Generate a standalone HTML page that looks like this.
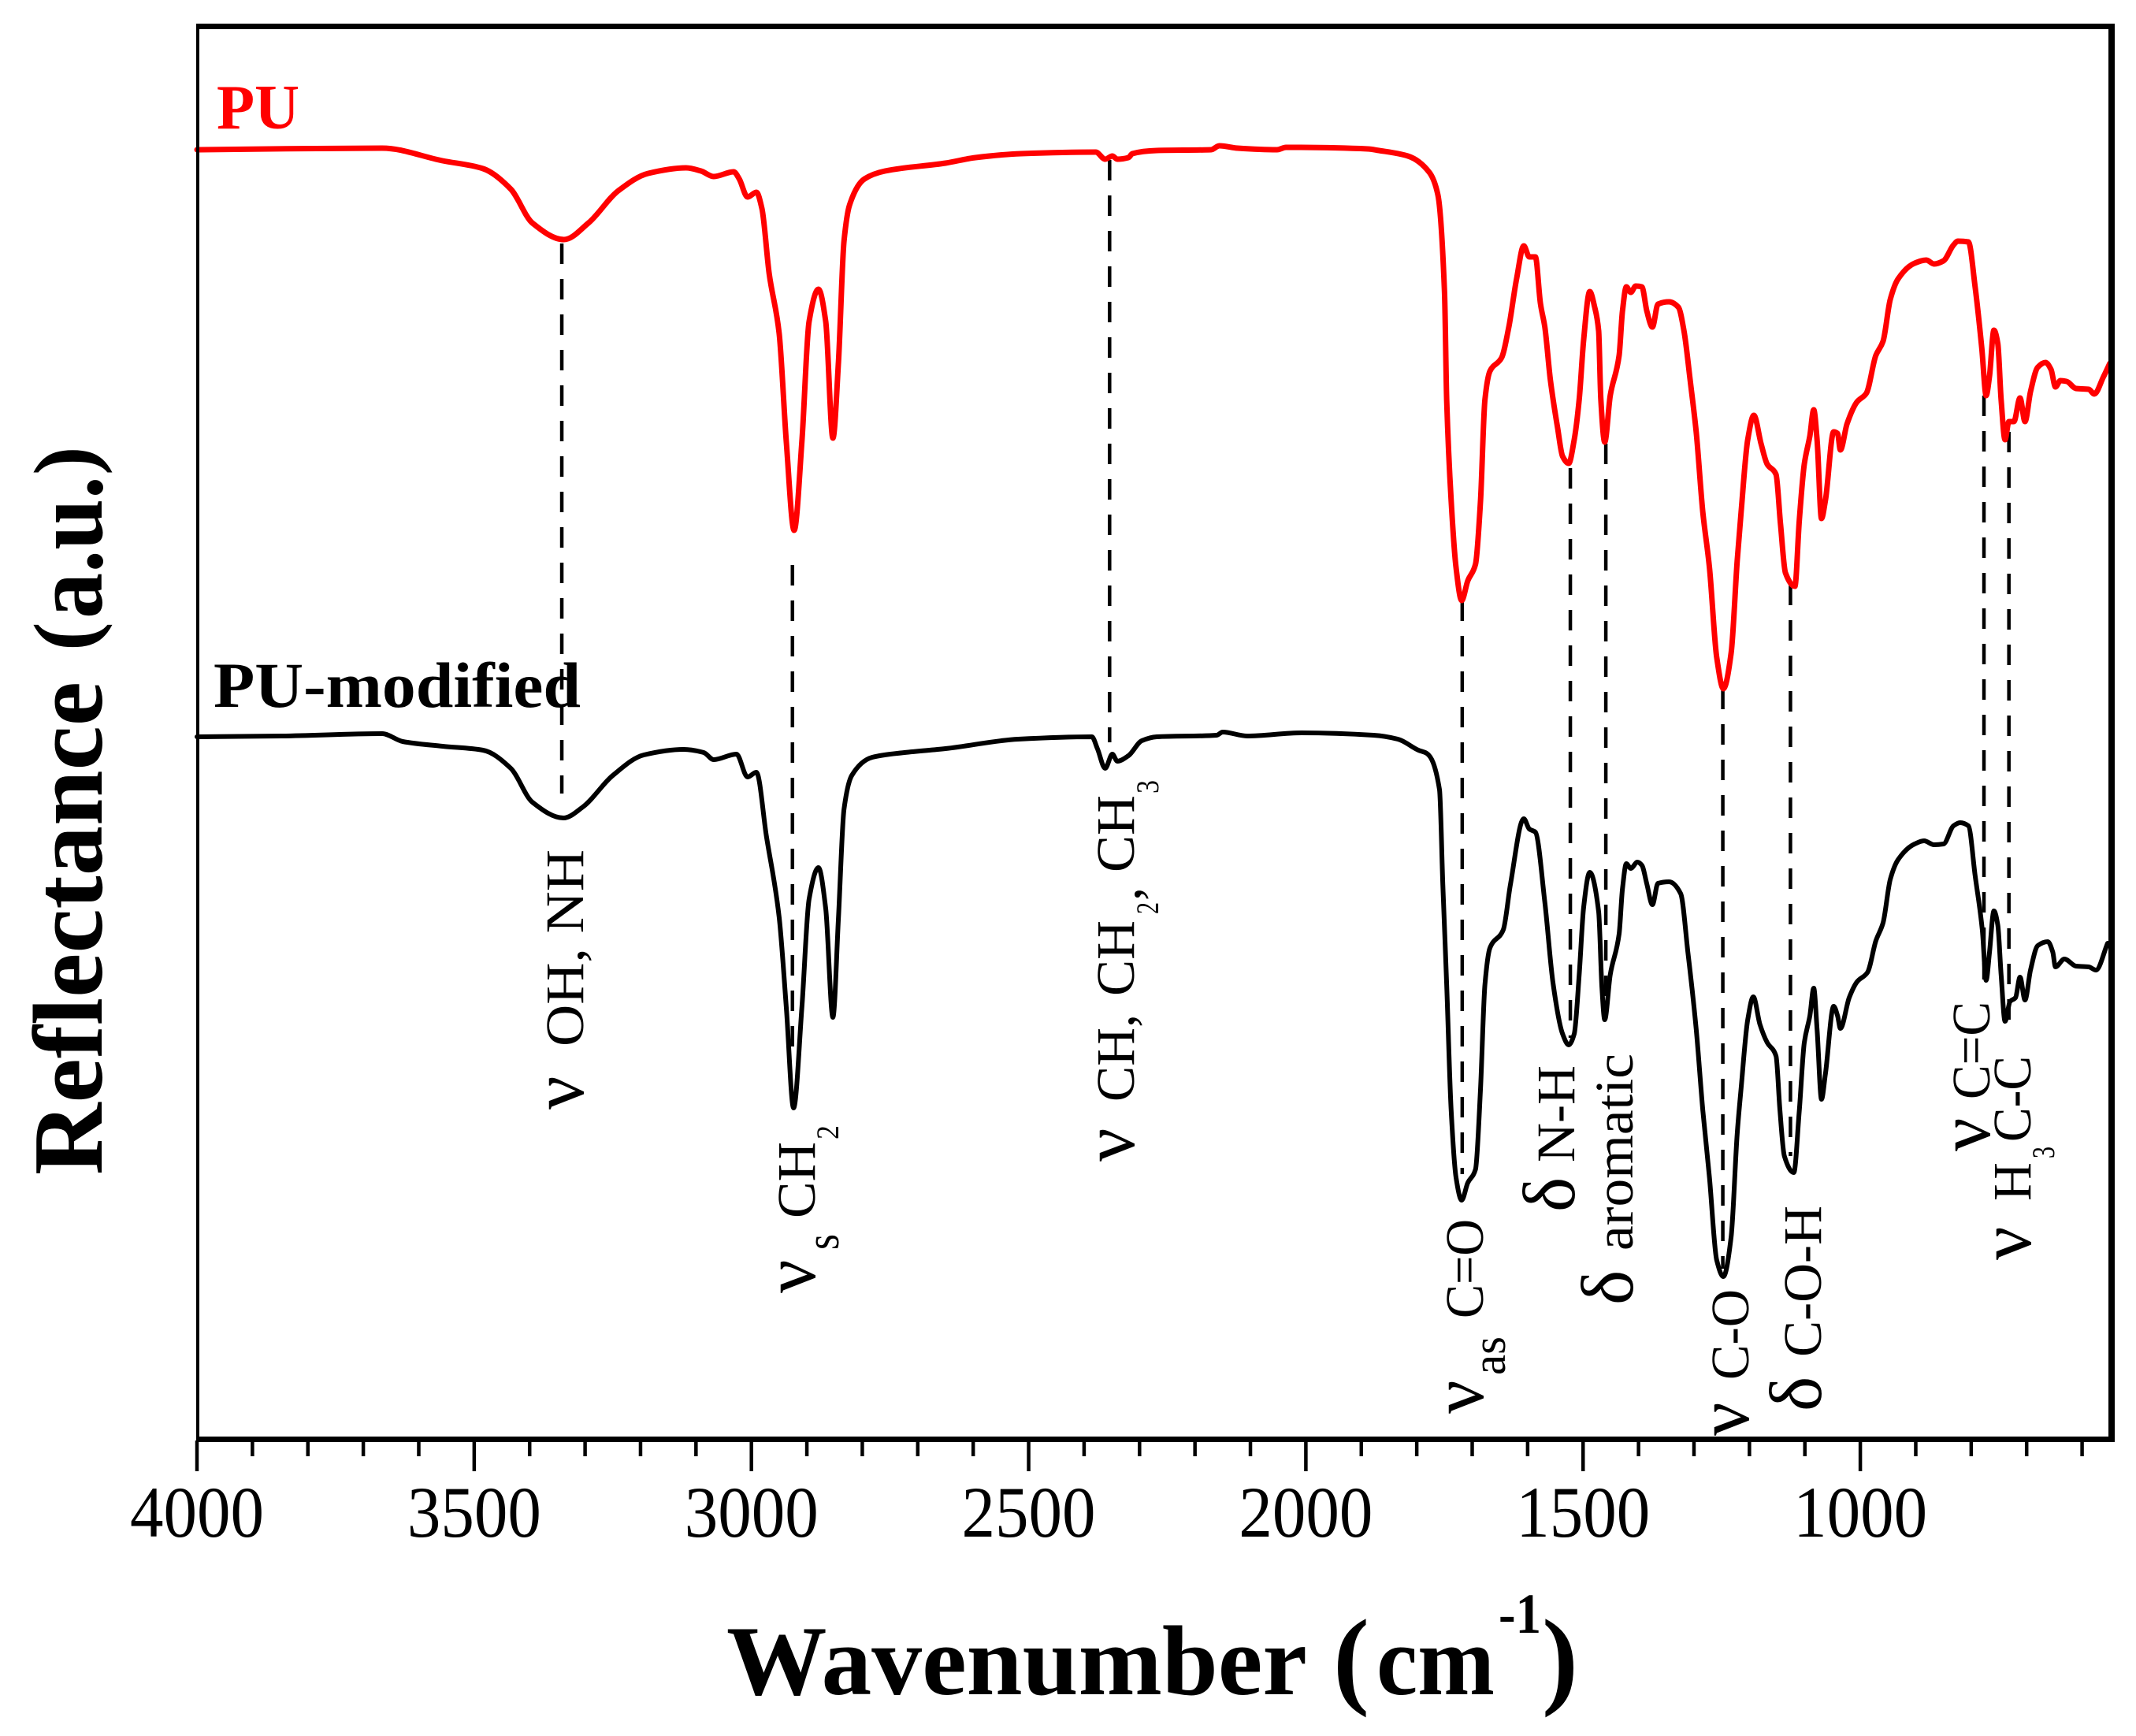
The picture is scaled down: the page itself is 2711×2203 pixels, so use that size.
<!DOCTYPE html>
<html lang="en">
<head>
<meta charset="utf-8">
<title>Reflectance spectra of PU and PU-modified</title>
<style>
html,body{margin:0;padding:0;background:#fff;}
svg{display:block;}
text{font-family:"Liberation Serif",serif;fill:#000;}
.cap{font-size:69px;}
.sym{font-size:94px;}
.sub{font-size:60px;}
.num{font-size:40px;}
.bold{font-weight:bold;}
</style>
</head>
<body>
<svg id="chart" xmlns="http://www.w3.org/2000/svg" width="2711" height="2203" viewBox="0 0 2711 2203">
  <rect x="0" y="0" width="2711" height="2203" fill="#fff"/>
  <g id="peak-lines"></g>
  <g id="series"></g>

  <g fill="#000">
    <rect x="249" y="30" width="2435" height="7"/>
    <rect x="249" y="30" width="4" height="1800"/>
    <rect x="2676" y="30" width="8" height="1800"/>
    <rect x="249" y="1823" width="2435" height="7"/>
  </g>
  <g id="ticks"></g>
  <g id="tick-labels"></g>

  <text class="bold" x="275" y="163" font-size="80" style="fill:#f00" textLength="105" lengthAdjust="spacingAndGlyphs">PU</text>
  <text class="bold" x="271" y="897" font-size="82" textLength="466" lengthAdjust="spacingAndGlyphs">PU-modified</text>

  <g transform="translate(129,1491) rotate(-90)">
    <text class="bold" x="0" y="0" font-size="126" textLength="626" lengthAdjust="spacingAndGlyphs">Reflectance</text>
    <text class="bold" x="665" y="-10" font-size="110">(</text>
    <text class="bold" x="706" y="0" font-size="126" textLength="181" lengthAdjust="spacingAndGlyphs">a.u.</text>
    <text class="bold" x="888" y="-10" font-size="110">)</text>
  </g>

  <g>
    <text class="bold" x="922" y="2150" font-size="126" textLength="737" lengthAdjust="spacingAndGlyphs">Wavenumber</text>
    <text class="bold" x="1692" y="2150" font-size="138">(</text>
    <text class="bold" x="1747" y="2150" font-size="126" textLength="150" lengthAdjust="spacingAndGlyphs">cm</text>
    <text class="bold" x="1902" y="2072" font-size="72" textLength="54" lengthAdjust="spacingAndGlyphs">-1</text>
    <text class="bold" x="1957" y="2150" font-size="138">)</text>
  </g>

  <g transform="translate(740,1408) rotate(-90)">
    <text class="sym" x="0" y="0">ν</text>
    <text class="cap" x="80" y="0" textLength="250" lengthAdjust="spacingAndGlyphs">OH, NH</text>
  </g>
  <g transform="translate(1034,1641) rotate(-90)">
    <text class="sym" x="0" y="0">ν</text>
    <text class="sub" x="55" y="30" textLength="20" lengthAdjust="spacingAndGlyphs">s</text>
    <text class="cap" x="95" y="0" textLength="97" lengthAdjust="spacingAndGlyphs">CH</text>
    <text class="num" x="195" y="30" textLength="18" lengthAdjust="spacingAndGlyphs">2</text>
  </g>
  <g transform="translate(1439,1474) rotate(-90)">
    <text class="sym" x="0" y="0">ν</text>
    <text class="cap" x="76" y="0" textLength="111" lengthAdjust="spacingAndGlyphs">CH,</text>
    <text class="cap" x="210" y="0" textLength="96" lengthAdjust="spacingAndGlyphs">CH</text>
    <text class="num" x="314" y="31" textLength="15" lengthAdjust="spacingAndGlyphs">2</text>
    <text class="cap" x="331" y="8">,</text>
    <text class="cap" x="367" y="0" textLength="98" lengthAdjust="spacingAndGlyphs">CH</text>
    <text class="num" x="467" y="31" textLength="17" lengthAdjust="spacingAndGlyphs">3</text>
  </g>
  <g transform="translate(1882,1794) rotate(-90)">
    <text class="sym" x="0" y="0">ν</text>
    <text class="sub" x="49" y="28" textLength="49" lengthAdjust="spacingAndGlyphs">as</text>
    <text class="cap" x="121" y="0" textLength="126" lengthAdjust="spacingAndGlyphs">C=O</text>
  </g>
  <g transform="translate(1998,1538) rotate(-90)">
    <text class="sym" x="0" y="0">δ</text>
    <text class="cap" x="63" y="0" textLength="123" lengthAdjust="spacingAndGlyphs">N-H</text>
  </g>
  <g transform="translate(2072,1656) rotate(-90)">
    <text class="sym" x="0" y="0">δ</text>
    <text class="cap" x="69" y="0" textLength="250" lengthAdjust="spacingAndGlyphs">aromatic</text>
  </g>
  <g transform="translate(2219,1822) rotate(-90)">
    <text class="sym" x="0" y="0">ν</text>
    <text class="cap" x="71" y="0" textLength="115" lengthAdjust="spacingAndGlyphs">C-O</text>
  </g>
  <g transform="translate(2311,1791) rotate(-90)">
    <text class="sym" x="0" y="0">δ</text>
    <text class="cap" x="69" y="0" textLength="192" lengthAdjust="spacingAndGlyphs">C-O-H</text>
  </g>
  <g transform="translate(2525,1461) rotate(-90)">
    <text class="sym" x="0" y="0">ν</text>
    <text class="cap" x="66" y="0" textLength="124" lengthAdjust="spacingAndGlyphs">C=C</text>
  </g>
  <g transform="translate(2577,1599) rotate(-90)">
    <text class="sym" x="0" y="0">ν</text>
    <text class="cap" x="75" y="0" textLength="49" lengthAdjust="spacingAndGlyphs">H</text>
    <text class="num" x="129" y="30" textLength="15" lengthAdjust="spacingAndGlyphs">3</text>
    <text class="cap" x="150" y="0" textLength="109" lengthAdjust="spacingAndGlyphs">C-C</text>
  </g>
</svg>
<script>
const puSpectrum = [
[4000,163.5],[3666,163.7],[3557,162.1],[3484,161.1],[3434,158.5],[3395,154.2],[3338,152.1],[3294,154.2],[3240,158.3],[3186,160.5],
[3118,161.2],[3091,160.8],[3068,160.1],[3032,160.7],[3022,159.8],[3007,157.5],[2991,158.1],[2981,156.0],[2968,147.8],[2950,140.2],
[2937,126.4],[2923,115.2],[2909,126.4],[2896,141.7],[2879,145.8],[2866,141.7],[2853,126.9],[2843,136.6],[2833,151.9],[2823,156.5],
[2796,159.8],[2759,160.8],[2650,161.8],[2596,162.5],[2514,163.0],[2379,163.2],[2362,162.3],[2349,162.7],[2340,162.3],[2320,162.5],
[2313,163.0],[2269,163.4],[2171,163.5],[2156,164.0],[2123,163.7],[2052,163.5],[2036,163.8],[1888,163.6],[1868,163.4],[1816,162.7],
[1777,160.6],[1762,157.8],[1750,145.6],[1746,131.8],[1738,119.0],[1729,110.4],[1719,106.3],[1708,108.8],[1694,110.9],[1685,119.0],
[1677,131.8],[1668,135.4],[1647,137.1],[1634,141.0],[1620,147.1],[1607,151.3],[1597,149.9],[1586,149.9],[1577,144.0],[1569,141.0],
[1559,134.3],[1546,128.2],[1537,124.6],[1526,123.7],[1516,126.7],[1507,131.8],[1499,139.4],[1488,145.5],[1479,143.5],[1472,140.5],
[1468,131.8],[1461,126.4],[1451,132.3],[1435,137.4],[1429,143.0],[1422,146.1],[1414,145.4],[1405,146.2],[1394,146.1],[1385,143.0],
[1375,141.0],[1365,143.9],[1345,144.2],[1328,143.5],[1318,140.5],[1307,134.3],[1296,127.7],[1284,117.5],[1272,110.4],[1259,99.1],
[1247,95.1],[1233,99.6],[1222,111.4],[1215,117.5],[1203,126.7],[1192,129.8],[1179,126.2],[1168,123.6],[1152,122.3],[1144,116.0],
[1135,109.8],[1118,108.1],[1110,116.5],[1101,123.6],[1091,127.2],[1084,130.5],[1078,126.7],[1070,116.7],[1063,119.0],[1048,127.7],
[1041,127.5],[1036,125.4],[1024,128.7],[1006,131.5],[989,132.6],[972,137.4],[959,139.2],[946,144.5],[932,147.1],[902,149.1],
[881,149.5],[867,149.0],[850,149.4],[832,151.4],[824,151.9],[805,151.8],[793,146.1],[781,138.4],[773,132.3],[767,134.8],
[759,140.6],[752,138.9],[746,131.8],[739,126.7],[732,129.0],[723,129.0],[712,132.0],[703,129.0],[693,132.8],[680,135.9],
[666,136.5],[656,135.6],[648,133.4],[639,134.2],[628,134.1],[611,133.2],[588,133.1],[578,132.5],[562,134.6],[550,136.4]
];
const modifiedSpectrum = [
[4000,89.0],[3847,89.1],[3666,89.4],[3629,88.4],[3557,87.8],[3484,87.3],[3434,85.0],[3395,80.7],[3339,78.7],[3304,80.1],
[3250,84.1],[3194,86.7],[3122,87.4],[3086,87.0],[3068,86.1],[3027,86.8],[3007,83.9],[2991,84.5],[2973,76.4],[2950,66.1],
[2937,54.6],[2924,41.9],[2909,54.6],[2896,68.4],[2879,72.4],[2866,67.2],[2853,53.4],[2843,66.1],[2833,79.8],[2819,84.1],
[2782,86.4],[2724,87.0],[2650,87.5],[2519,88.7],[2386,89.0],[2376,87.5],[2362,85.0],[2349,86.8],[2340,85.9],[2320,86.6],
[2296,88.5],[2269,89.0],[2161,89.2],[2150,89.6],[2106,89.1],[2008,89.5],[1878,89.2],[1834,88.7],[1797,87.3],[1782,86.9],
[1759,82.3],[1753,70.3],[1746,57.6],[1738,41.6],[1729,33.0],[1719,30.2],[1708,32.4],[1694,34.1],[1685,44.4],[1677,57.6],
[1668,62.2],[1644,64.5],[1631,70.3],[1607,78.6],[1597,77.3],[1586,76.9],[1569,68.0],[1554,57.6],[1537,51.3],[1526,49.9],
[1516,51.3],[1507,58.8],[1499,67.4],[1488,71.8],[1472,66.8],[1466,57.1],[1461,53.1],[1451,58.8],[1435,64.0],[1429,69.7],
[1422,72.9],[1414,72.3],[1402,73.1],[1394,72.7],[1385,70.3],[1375,67.7],[1365,70.4],[1345,70.6],[1324,69.1],[1311,61.7],
[1296,51.9],[1284,41.6],[1272,33.0],[1259,22.6],[1247,20.5],[1233,25.5],[1222,38.7],[1215,44.4],[1203,53.1],[1193,56.0],
[1181,52.5],[1168,50.2],[1152,48.5],[1145,41.6],[1137,35.8],[1120,33.7],[1110,41.6],[1101,50.2],[1091,53.6],[1084,57.1],
[1078,51.9],[1070,43.0],[1063,46.2],[1048,54.8],[1041,53.6],[1036,52.0],[1020,55.9],[1006,57.9],[987,59.1],[972,63.1],
[959,65.4],[946,70.9],[932,73.4],[902,75.4],[885,75.8],[867,75.3],[850,75.4],[832,77.7],[820,78.1],[805,77.7],
[793,71.4],[780,64.5],[773,58.1],[767,61.7],[759,66.9],[752,65.1],[746,58.8],[739,52.9],[730,55.4],[720,55.9],
[712,58.5],[703,55.6],[693,59.4],[680,62.5],[662,63.0],[653,61.7],[648,59.8],[632,60.8],[611,59.9],[588,59.8],
[575,59.4],[554,62.8]
];
const majorTicks = [4000,3500,3000,2500,2000,1500,1000];
const minorTicks = [3900,3800,3700,3600,3400,3300,3200,3100,2900,2800,2700,2600,2400,2300,2200,2100,1900,1800,1700,1600,1400,1300,1200,1100,900,800,700,600];
const tickLabels = ["4000","3500","3000","2500","2000","1500","1000"];
const peakWavenumbers = [3342,2926,2354,1718,1523,1459,1248,1126,777,732];
const peakTopValues = [151.6,110.8,162.2,106.3,123.1,126.2,95.1,108.3,132.3,127.7];
const peakBottomValues = [81.8,49.5,88.3,33.5,50.8,53.6,21.5,35.8,58.2,53.1];

const SVG_NS = 'http://www.w3.org/2000/svg';
function xOf(w) { return 250 + (4000 - w) * 0.7037; }
function yOf(v) { return 1825 - v * 10; }

/* Monotone cubic path through the points: smooth like the spectrum, without overshoot. */
function monotonePath(pts) {
  const n = pts.length;
  const slopes = [];
  for (let i = 0; i < n - 1; i++) {
    slopes.push((pts[i + 1][1] - pts[i][1]) / (pts[i + 1][0] - pts[i][0]));
  }
  const tangents = [slopes[0]];
  for (let i = 1; i < n - 1; i++) {
    if (slopes[i - 1] * slopes[i] <= 0) {
      tangents.push(0);
    } else {
      const h0 = pts[i][0] - pts[i - 1][0];
      const h1 = pts[i + 1][0] - pts[i][0];
      tangents.push((h0 + h1) * 3 / ((2 * h1 + h0) / slopes[i - 1] + (h1 + 2 * h0) / slopes[i]));
    }
  }
  tangents.push(slopes[n - 2]);
  let d = 'M' + pts[0][0].toFixed(1) + ' ' + pts[0][1].toFixed(1);
  for (let i = 0; i < n - 1; i++) {
    const h = (pts[i + 1][0] - pts[i][0]) / 3;
    d += ' C' + (pts[i][0] + h).toFixed(1) + ' ' + (pts[i][1] + tangents[i] * h).toFixed(1) +
         ' ' + (pts[i + 1][0] - h).toFixed(1) + ' ' + (pts[i + 1][1] - tangents[i + 1] * h).toFixed(1) +
         ' ' + pts[i + 1][0].toFixed(1) + ' ' + pts[i + 1][1].toFixed(1);
  }
  return d;
}

function drawSpectrum(data, color, width, name) {
  const pts = data.map(function (p) { return [xOf(p[0]), yOf(p[1])]; });
  const path = document.createElementNS(SVG_NS, 'path');
  path.setAttribute('d', monotonePath(pts));
  path.setAttribute('fill', 'none');
  path.setAttribute('stroke', color);
  path.setAttribute('stroke-width', width);
  path.setAttribute('stroke-linejoin', 'round');
  path.setAttribute('stroke-linecap', 'round');
  
  
  document.getElementById('series').appendChild(path);
}
drawSpectrum(puSpectrum, '#ff0000', 7, 'series-pu');
drawSpectrum(modifiedSpectrum, '#000000', 6, 'series-pu-modified');

peakWavenumbers.forEach(function (w, i) {
  const line = document.createElementNS(SVG_NS, 'line');
  line.setAttribute('x1', xOf(w));
  line.setAttribute('x2', xOf(w));
  line.setAttribute('y1', yOf(peakTopValues[i]));
  line.setAttribute('y2', yOf(peakBottomValues[i]));
  line.setAttribute('stroke', '#000');
  line.setAttribute('stroke-width', 4.5);
  line.setAttribute('stroke-dasharray', '26 19');
  
  
  document.getElementById('peak-lines').appendChild(line);
});

function drawTick(w, bottom, name) {
  const tick = document.createElementNS(SVG_NS, 'line');
  tick.setAttribute('x1', xOf(w));
  tick.setAttribute('x2', xOf(w));
  tick.setAttribute('y1', 1828);
  tick.setAttribute('y2', bottom);
  tick.setAttribute('stroke', '#000');
  tick.setAttribute('stroke-width', 4.5);
  
  
  document.getElementById('ticks').appendChild(tick);
}
majorTicks.forEach(function (w) { drawTick(w, 1867, 'major-tick'); });
minorTicks.forEach(function (w) { drawTick(w, 1848, 'minor-tick'); });

majorTicks.forEach(function (w, i) {
  const label = document.createElementNS(SVG_NS, 'text');
  label.setAttribute('x', xOf(w));
  label.setAttribute('y', 1950);
  label.setAttribute('font-size', 92);
  label.setAttribute('text-anchor', 'middle');
  label.setAttribute('textLength', 170);
  label.setAttribute('lengthAdjust', 'spacingAndGlyphs');
  
  
  label.textContent = tickLabels[i];
  document.getElementById('tick-labels').appendChild(label);
});
</script>
</body>
</html>
